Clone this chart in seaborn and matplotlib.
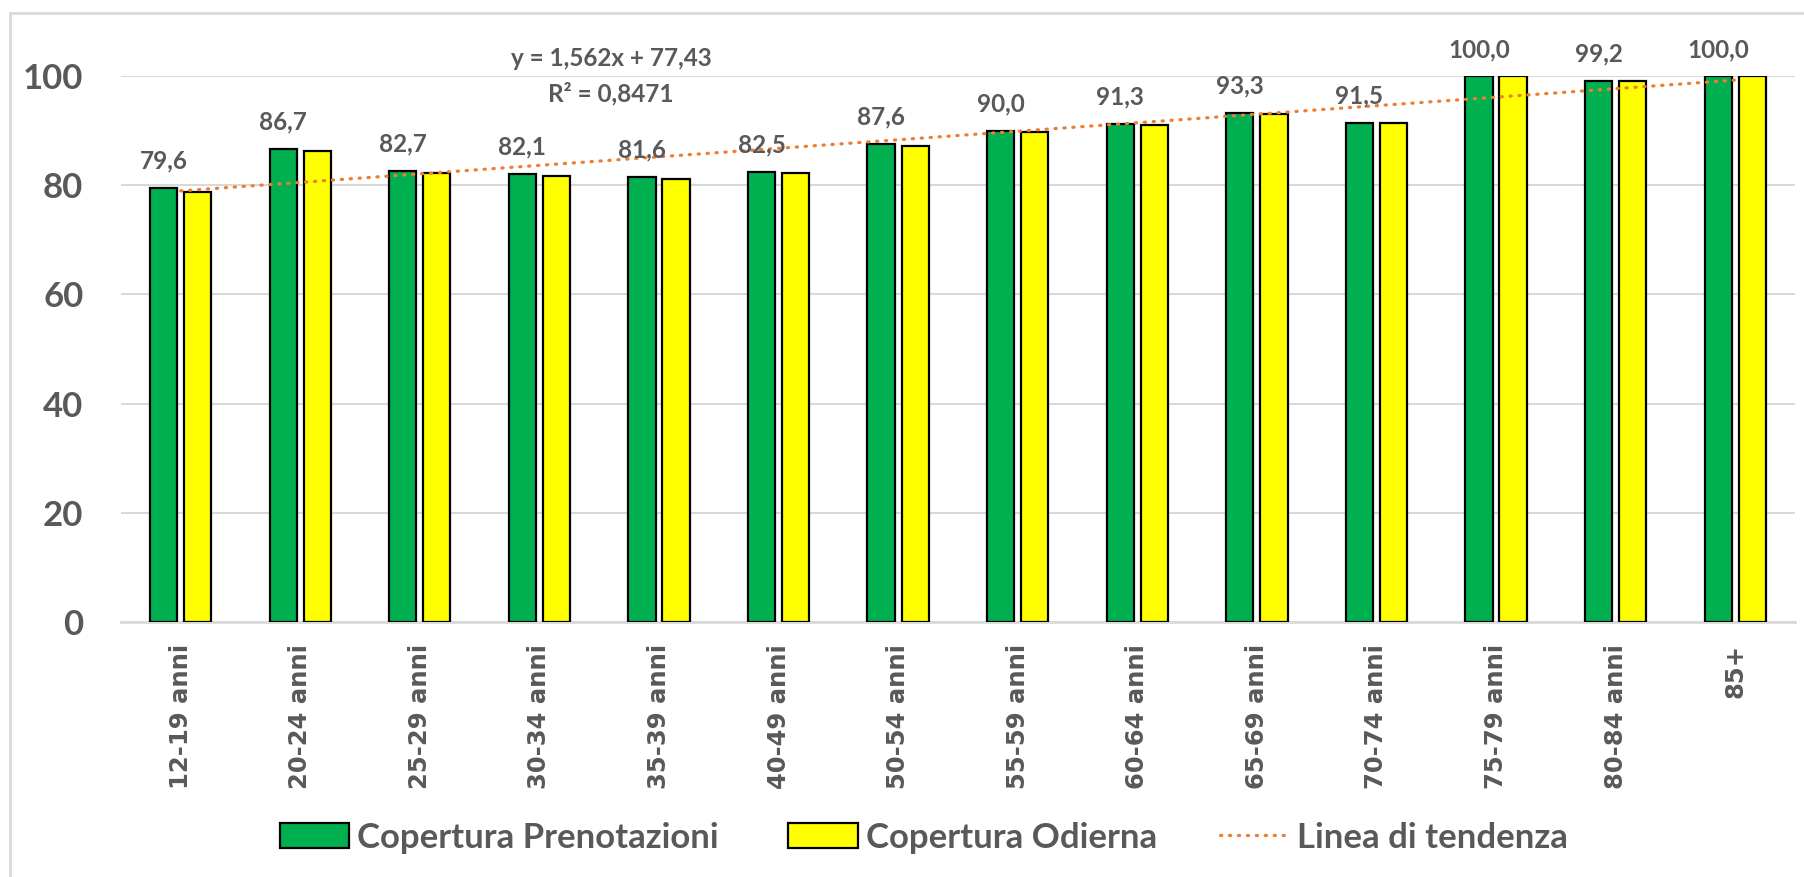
import matplotlib
matplotlib.use("Agg")
import matplotlib.pyplot as plt
from matplotlib.patches import Patch, Rectangle
from matplotlib.lines import Line2D
import numpy as np
import pandas as pd
import seaborn as sns

# Age groups and coverage values (%)
categories = ["12-19 anni", "20-24 anni", "25-29 anni", "30-34 anni", "35-39 anni",
              "40-49 anni", "50-54 anni", "55-59 anni", "60-64 anni", "65-69 anni",
              "70-74 anni", "75-79 anni", "80-84 anni", "85+"]
prenotazioni = [79.6, 86.7, 82.7, 82.1, 81.6, 82.5, 87.6, 90.0, 91.3, 93.3, 91.5, 100.0, 99.2, 100.0]
odierna = [78.8, 86.3, 82.3, 81.7, 81.1, 82.2, 87.3, 89.7, 91.1, 93.1, 91.4, 100.0, 99.2, 100.0]
series_names = ["Copertura Prenotazioni", "Copertura Odierna"]
trend_name = "Linea di tendenza"
trend_slope, trend_intercept, trend_r2 = 1.562, 77.43, 0.8471

GREEN = "#00B050"
YELLOW = "#FFFF00"
ORANGE = "#ED7D31"
TEXT = "#595959"
GRID = "#D9D9D9"
LABEL_FONT = ["Lato", "DejaVu Sans"]
DOTS = (0, (0.4, 2.4))

sns.set_theme(style="white")
plt.rcParams["font.family"] = LABEL_FONT
plt.rcParams["font.weight"] = "bold"

df = pd.DataFrame({
    "categoria": categories * 2,
    "valore": prenotazioni + odierna,
    "serie": [series_names[0]] * len(categories) + [series_names[1]] * len(categories),
})

fig = plt.figure(figsize=(18.04, 8.77), dpi=100)
ax = fig.add_axes([0.067, 0.291, 0.928, 0.622])

sns.barplot(data=df, x="categoria", y="valore", hue="serie", order=categories,
            hue_order=series_names, palette=[GREEN, YELLOW], saturation=1,
            width=0.57, gap=0.2, edgecolor="black", linewidth=1.6,
            legend=False, ax=ax, zorder=3)

# Linear trend line over the category positions (x = 1..n)
xs = np.arange(len(categories))
ax.plot(xs, trend_slope * (xs + 1) + trend_intercept, color=ORANGE, lw=2.3,
        linestyle=DOTS, dash_capstyle="round", zorder=4)

# Value labels above the first series
for i, v in enumerate(prenotazioni):
    ax.text(i - 0.1425, v + 3.5, f"{v:.1f}".replace(".", ","), ha="center", va="baseline",
            fontsize=17.5, fontweight="bold", color=TEXT, clip_on=False, zorder=5)

# Trend equation
ax.text(3.6, 103.2, f"y = {trend_slope:.3f}x + {trend_intercept:.2f}".replace(".", ","),
        ha="center", va="center", fontsize=17.5, fontweight="bold", color=TEXT, clip_on=False)
ax.text(3.6, 96.9, f"R² = {trend_r2:.4f}".replace(".", ","),
        ha="center", va="center", fontsize=17.5, fontweight="bold", color=TEXT, clip_on=False)

ax.set_xlim(-0.5, len(categories) - 0.5)
ax.set_ylim(0, 100)
ax.set_yticks(range(0, 101, 20))
ax.yaxis.grid(True, color=GRID, lw=1.5, zorder=0)
ax.set_axisbelow(True)
ax.set_xlabel("")
ax.set_ylabel("")
for s in ["top", "right", "left"]:
    ax.spines[s].set_visible(False)
ax.spines["bottom"].set_color(GRID)
ax.spines["bottom"].set_linewidth(2)
ax.set_xticks(xs)
ax.set_xticklabels(categories, rotation=90)
ax.tick_params(axis="both", length=0, labelcolor=TEXT)
ax.tick_params(axis="y", pad=27, labelsize=25)
ax.tick_params(axis="x", pad=16, labelsize=17.5, labelfontfamily="DejaVu Sans")
for lbl in ax.get_xticklabels() + ax.get_yticklabels():
    lbl.set_fontweight("bold")

# Legend entries placed individually along the bottom
entries = [
    (Patch(facecolor=GREEN, edgecolor="black", linewidth=1.6, label=series_names[0]), 0.155),
    (Patch(facecolor=YELLOW, edgecolor="black", linewidth=1.6, label=series_names[1]), 0.437),
    (Line2D([0], [0], color=ORANGE, lw=2.3, linestyle=DOTS, dash_capstyle="round",
            label=trend_name), 0.676),
]
for handle, x0 in entries:
    fig.legend(handles=[handle], loc="center left", bbox_to_anchor=(x0, 0.045),
               frameon=False, prop={"size": 25, "weight": "bold"}, labelcolor=TEXT,
               handlelength=2.0, handleheight=0.7, handletextpad=0.23,
               borderpad=0, borderaxespad=0)

# Chart border (top and left edges visible)
fig.patches.append(Rectangle((0.0055, -0.2), 1.2, 1.185, transform=fig.transFigure,
                             fill=False, edgecolor=GRID, lw=2))

fig.savefig("out.png", dpi=100)
